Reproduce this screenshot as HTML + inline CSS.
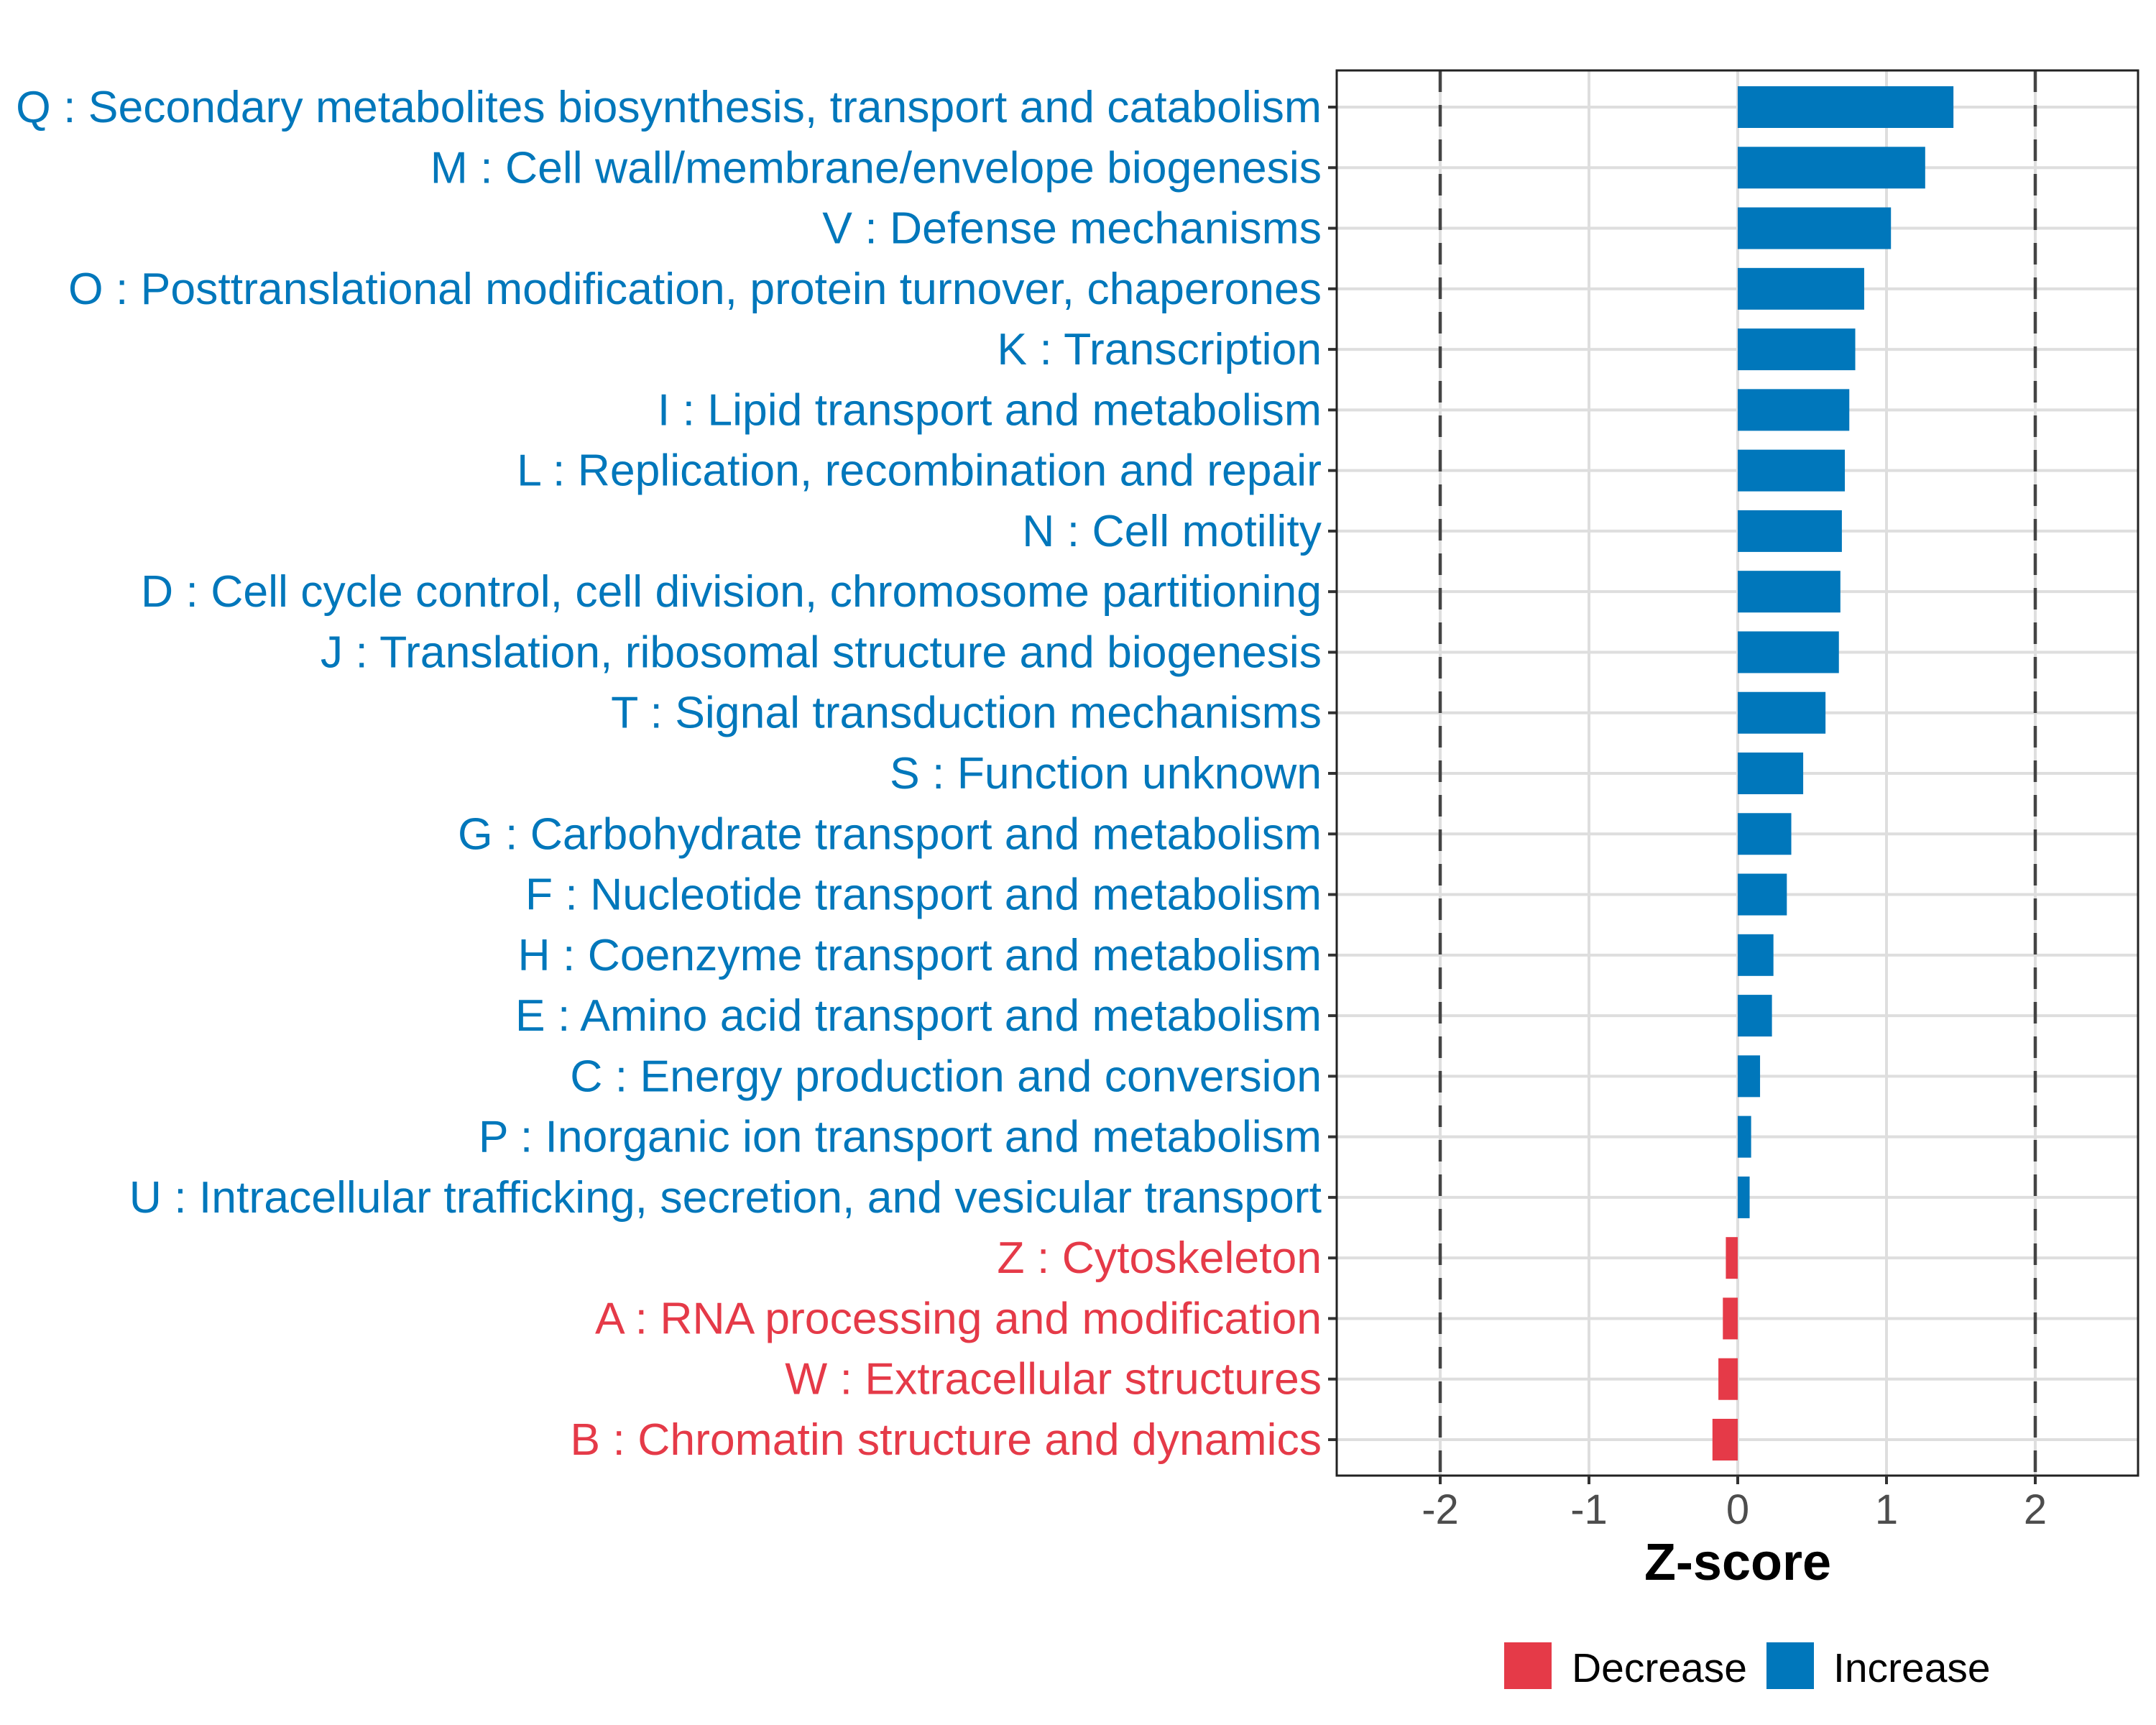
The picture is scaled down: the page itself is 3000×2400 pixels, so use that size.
<!DOCTYPE html>
<html><head><meta charset="utf-8"><style>
html,body{margin:0;padding:0;background:#fff}
svg{display:block}
text{font-family:"Liberation Sans",sans-serif}
</style></head><body>
<svg id="chart" width="3000" height="2400" viewBox="0 0 3000 2400"></svg>
<script>
const categories=["Q : Secondary metabolites biosynthesis, transport and catabolism","M : Cell wall/membrane/envelope biogenesis","V : Defense mechanisms","O : Posttranslational modification, protein turnover, chaperones","K : Transcription","I : Lipid transport and metabolism","L : Replication, recombination and repair","N : Cell motility","D : Cell cycle control, cell division, chromosome partitioning","J : Translation, ribosomal structure and biogenesis","T : Signal transduction mechanisms","S : Function unknown","G : Carbohydrate transport and metabolism","F : Nucleotide transport and metabolism","H : Coenzyme transport and metabolism","E : Amino acid transport and metabolism","C : Energy production and conversion","P : Inorganic ion transport and metabolism","U : Intracellular trafficking, secretion, and vesicular transport","Z : Cytoskeleton","A : RNA processing and modification","W : Extracellular structures","B : Chromatin structure and dynamics"];
const zscores=[1.45,1.26,1.03,0.85,0.79,0.75,0.72,0.70,0.69,0.68,0.59,0.44,0.36,0.33,0.24,0.23,0.15,0.09,0.08,-0.08,-0.10,-0.13,-0.17];
const xTicks=[-2,-1,0,1,2];
const xTickLabels=["-2","-1","0","1","2"];
const thresholds=[-2,2];

const svg=document.getElementById('chart');
const NS='http://www.w3.org/2000/svg';
const L=1860,R=2975,T=98,B=2053;
const x=v=>2418+v*207;
const y=i=>149+i*(2003-149)/(categories.length-1);
const BLUE='#0077BB',RED='#E53A48';
function mk(tag,attrs,parent){const e=document.createElementNS(NS,tag);for(const k in attrs)e.setAttribute(k,attrs[k]);(parent||svg).appendChild(e);return e;}

xTicks.forEach((t,i)=>{const g=mk('line',{x1:x(t),x2:x(t),y1:T,y2:B,stroke:'#DEDEDE','stroke-width':4});

});
categories.forEach((c,i)=>{const g=mk('line',{x1:L,x2:R,y1:y(i),y2:y(i),stroke:'#DEDEDE','stroke-width':4});

});
thresholds.forEach(t=>{const d=mk('line',{x1:x(t),x2:x(t),y1:T,y2:B,stroke:'#444','stroke-width':4.5,'stroke-dasharray':'30 18'});

});
const bh=58;
categories.forEach((c,i)=>{const v=zscores[i];const col=v>=0?BLUE:RED;
const r=mk('rect',{x:Math.min(x(0),x(v)),y:y(i)-bh/2,width:Math.abs(x(v)-x(0)),height:bh,fill:col});


const tk=mk('line',{x1:1848,x2:L,y1:y(i),y2:y(i),stroke:'#333','stroke-width':4});


const t=mk('text',{x:1839,y:y(i)+21,'text-anchor':'end','font-size':62.5,fill:col});t.textContent=c;

});
const pb=mk('rect',{x:L,y:T,width:R-L,height:B-T,fill:'none',stroke:'#222','stroke-width':3});


xTicks.forEach((t,i)=>{const tk=mk('line',{x1:x(t),x2:x(t),y1:B,y2:B+12,stroke:'#333','stroke-width':4});


const lb=mk('text',{x:x(t),y:2120,'text-anchor':'middle','font-size':58,fill:'#4D4D4D'});lb.textContent=xTickLabels[i];

});
const xt=mk('text',{x:x(0),y:2198,'text-anchor':'middle','font-size':72,'font-weight':'bold',fill:'#000'});xt.textContent='Z-score';


const lg=mk('g',{});


[[2093,RED,2187,'Decrease'],[2458,BLUE,2551,'Increase']].forEach(a=>{
const k=mk('rect',{x:a[0],y:2285,width:66,height:65,fill:a[1]},lg);


const t=mk('text',{x:a[2],y:2340,'font-size':57,fill:'#000'},lg);t.textContent=a[3];

});
</script>
</body></html>
